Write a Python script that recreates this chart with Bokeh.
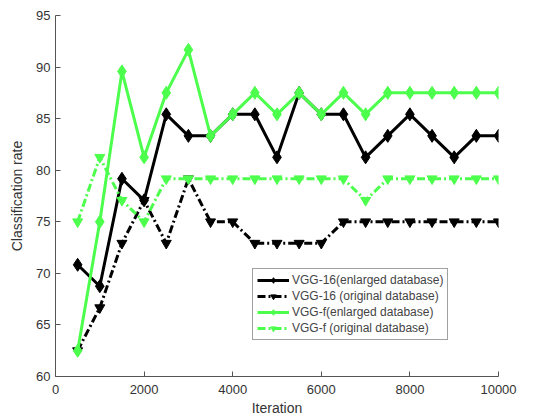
from bokeh.plotting import figure
from bokeh.embed import file_html
from bokeh.resources import INLINE
from bokeh.models import FixedTicker, Range1d

iterations = [500, 1000, 1500, 2000, 2500, 3000, 3500, 4000, 4500, 5000,
              5500, 6000, 6500, 7000, 7500, 8000, 8500, 9000, 9500, 10000]
vgg16_enlarged = [70.83, 68.75, 79.17, 77.08, 85.42, 83.33, 83.33, 85.42, 85.42, 81.25,
                  87.5, 85.42, 85.42, 81.25, 83.33, 85.42, 83.33, 81.25, 83.33, 83.33]
vgg16_original = [62.5, 66.67, 72.92, 77.08, 72.92, 79.17, 75.0, 75.0, 72.92, 72.92,
                  72.92, 72.92, 75.0, 75.0, 75.0, 75.0, 75.0, 75.0, 75.0, 75.0]
vggf_enlarged = [62.5, 75.0, 89.58, 81.25, 87.5, 91.67, 83.33, 85.42, 87.5, 85.42,
                 87.5, 85.42, 87.5, 85.42, 87.5, 87.5, 87.5, 87.5, 87.5, 87.5]
vggf_original = [75.0, 81.25, 77.08, 75.0, 79.17, 79.17, 79.17, 79.17, 79.17, 79.17,
                 79.17, 79.17, 79.17, 77.08, 79.17, 79.17, 79.17, 79.17, 79.17, 79.17]
x_ticks = [0, 2000, 4000, 6000, 8000, 10000]
y_ticks = [60, 65, 70, 75, 80, 85, 90, 95]

GREEN = "#4dff4d"
FONT = "Liberation Sans"

p = figure(width=530, height=419, output_backend="svg", toolbar_location=None,
           x_range=Range1d(0, 10000), y_range=Range1d(60, 95),
           min_border_left=55, min_border_right=32, min_border_top=15, min_border_bottom=43)
p.outline_line_color = None
p.xgrid.grid_line_color = None
p.ygrid.grid_line_color = None

series = [
    (vgg16_enlarged, "black", "solid", "diamond", 13, "VGG-16(enlarged database)"),
    (vgg16_original, "black", "8 3 2 3", "inverted_triangle", 10, "VGG-16 (original database)"),
    (vggf_enlarged, GREEN, "solid", "diamond", 13, "VGG-f(enlarged database)"),
    (vggf_original, GREEN, "8 3 2 3", "inverted_triangle", 10, "VGG-f (original database)"),
]
for ys, col, dash, marker, size, label in series:
    p.line(iterations, ys, line_color=col, line_width=3, line_dash=dash, legend_label=label)
    p.scatter(iterations, ys, marker=marker, size=size, fill_color=col, line_color=col,
              legend_label=label)

for ax in (p.xaxis[0], p.yaxis[0]):
    ax.axis_line_color = "#555555"
    ax.major_tick_line_color = "#555555"
    ax.major_tick_in = 5
    ax.major_tick_out = 0
    ax.minor_tick_line_color = None
    ax.major_label_text_font = FONT
    ax.major_label_text_font_size = "13px"
    ax.major_label_text_color = "#333333"
    ax.axis_label_text_font = FONT
    ax.axis_label_text_font_size = "14px"
    ax.axis_label_text_font_style = "normal"
    ax.axis_label_text_color = "#333333"

p.xaxis[0].ticker = FixedTicker(ticks=x_ticks)
p.yaxis[0].ticker = FixedTicker(ticks=y_ticks)
p.xaxis[0].axis_label = "Iteration"
p.yaxis[0].axis_label = "Classification rate"
p.xaxis[0].major_label_standoff = 8
p.xaxis[0].axis_label_standoff = 3
p.yaxis[0].axis_label_standoff = 8

lg = p.legend[0]
lg.location = (197, 36)
lg.label_text_font = FONT
lg.label_text_font_size = "12px"
lg.label_height = 14
lg.glyph_height = 14
lg.glyph_width = 32
lg.spacing = 2
lg.padding = 4
lg.margin = 0
lg.label_standoff = 3
lg.border_line_color = "#444444"
lg.border_line_width = 1
lg.background_fill_alpha = 1

open("out.html", "w").write(file_html(p, INLINE))
